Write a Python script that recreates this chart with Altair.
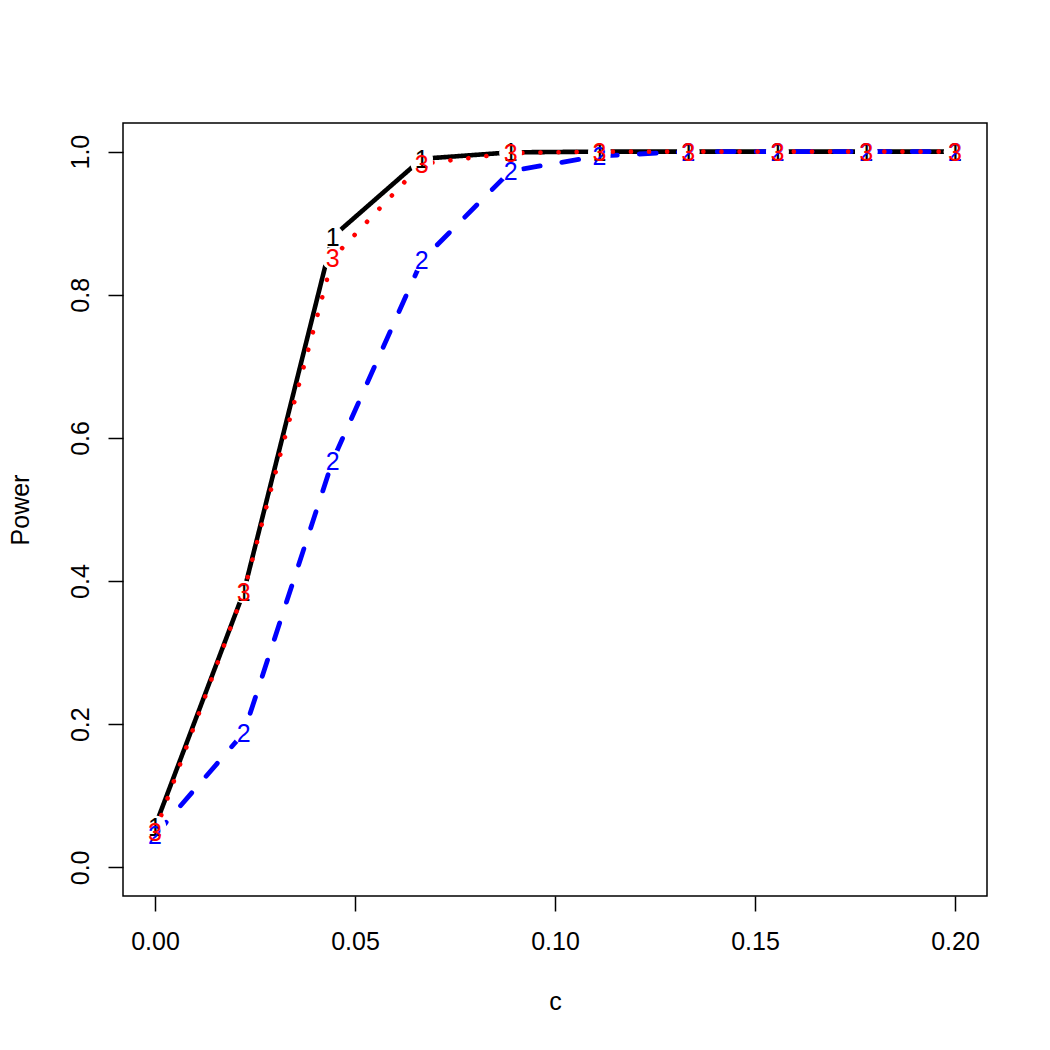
import altair as alt
import pandas as pd

c_vals = [0.0, 0.0222, 0.0444, 0.0667, 0.0889, 0.1111, 0.1333, 0.1556, 0.1778, 0.2]
power_1 = [0.057, 0.385, 0.881, 0.990, 0.999, 1.0, 1.0, 1.0, 1.0, 1.0]
power_2 = [0.045, 0.188, 0.568, 0.848, 0.973, 0.994, 1.0, 1.0, 1.0, 1.0]
power_3 = [0.049, 0.385, 0.851, 0.983, 0.998, 1.0, 1.0, 1.0, 1.0, 1.0]
series_labels = ["1", "2", "3"]
series_colors = ["#000000", "#0000FF", "#FF0000"]

rows = []
for lab, vals in zip(series_labels, [power_1, power_2, power_3]):
    for cx, p in zip(c_vals, vals):
        rows.append({"c": cx, "Power": p, "s": lab})
df = pd.DataFrame(rows)

FONT = "Liberation Sans"
FS = 25

xs = alt.Scale(domain=[-0.008, 0.208], nice=False, zero=False)
ys = alt.Scale(domain=[-0.04, 1.04], nice=False, zero=False)

xaxis = alt.Axis(values=[0, 0.05, 0.1, 0.15, 0.2], format=".2f", title="c",
                 titleBaseline="alphabetic", titleY=113)
yaxis = alt.Axis(values=[0, 0.2, 0.4, 0.6, 0.8, 1.0], format=".1f", title="Power",
                 labelAngle=-90, labelAlign="center", labelBaseline="bottom",
                 titleAngle=-90, titleBaseline="alphabetic", titleX=-95, titleY=386.5)

base = alt.Chart(df)
layers = []
styles = {
    "1": dict(strokeDash=[1, 0], strokeWidth=4.6),
    "2": dict(strokeDash=[17, 22], strokeWidth=4.8),
    "3": dict(strokeDash=[0.1, 18], strokeWidth=4.6),
}
for lab, col in zip(series_labels, series_colors):
    layers.append(
        base.transform_filter(alt.datum.s == lab).mark_line(
            color=col, strokeCap="round", **styles[lab]
        ).encode(
            x=alt.X("c:Q", scale=xs, axis=xaxis),
            y=alt.Y("Power:Q", scale=ys, axis=yaxis),
        )
    )

circles = base.mark_point(filled=True, color="white", opacity=1, size=500, shape="circle").encode(
    x=alt.X("c:Q", scale=xs), y=alt.Y("Power:Q", scale=ys)
)
layers.append(circles)

for lab, col in zip(series_labels, series_colors):
    layers.append(
        base.transform_filter(alt.datum.s == lab).mark_text(
            color=col, fontSize=FS, font=FONT, align="center", baseline="middle", dy=1
        ).encode(
            x=alt.X("c:Q", scale=xs), y=alt.Y("Power:Q", scale=ys), text="s:N"
        )
    )

chart = alt.layer(*layers).properties(
    width=864, height=773, autosize="none",
    padding={"left": 123, "top": 123, "right": 63, "bottom": 154},
).configure_view(
    stroke="black", strokeWidth=1.5
).configure_axis(
    grid=False, domain=False, tickColor="black", tickSize=15, tickWidth=1.5,
    labelFont=FONT, labelFontSize=FS, labelColor="black", labelPadding=18,
    titleFont=FONT, titleFontSize=FS, titleFontWeight="normal", titleColor="black",
).configure_axisY(labelPadding=15)

chart.save("out.html", embed_options={"renderer": "svg", "actions": False})
